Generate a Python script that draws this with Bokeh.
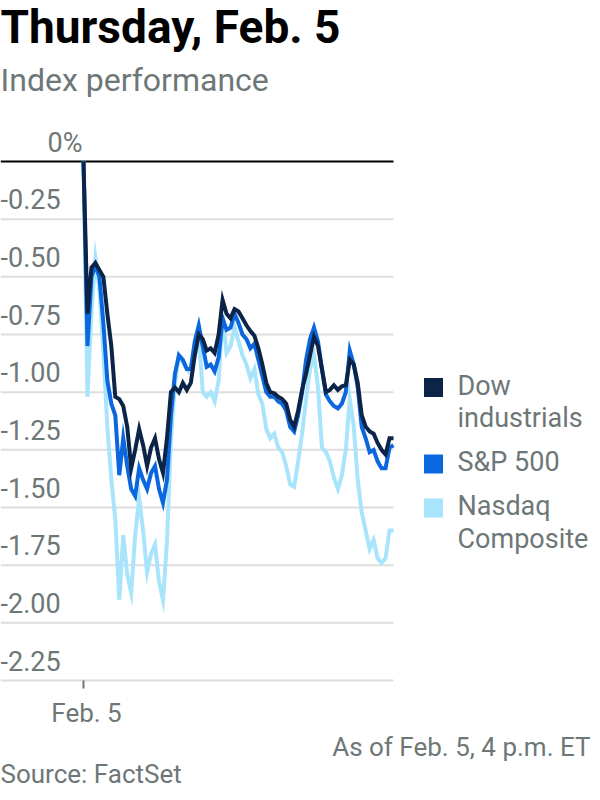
from bokeh.plotting import figure
from bokeh.models import Range1d
from bokeh.core.properties import value
from bokeh.embed import file_html
from bokeh.resources import INLINE

# ---------------- data ----------------
minutes = list(range(0, 395, 5))  # minutes after 9:30 a.m. ET, 5-minute steps

dow = [0, -0.66, -0.46, -0.44, -0.47, -0.50, -0.66, -0.80, -1.02, -1.03,
       -1.06, -1.15, -1.33, -1.25, -1.16, -1.23, -1.32, -1.24, -1.20, -1.29,
       -1.35, -1.20, -1.00, -0.98, -1.00, -0.96, -0.99, -0.96, -0.84, -0.75,
       -0.77, -0.82, -0.81, -0.83, -0.75, -0.60, -0.66, -0.68, -0.64, -0.65,
       -0.68, -0.71, -0.735, -0.755, -0.81, -0.88, -0.96, -1.00, -1.005, -1.02,
       -1.03, -1.05, -1.12, -1.15, -1.08, -0.99, -0.92, -0.84, -0.76, -0.80,
       -0.90, -1.00, -0.99, -0.97, -0.99, -0.975, -0.97, -0.86, -0.88, -0.96,
       -1.10, -1.15, -1.17, -1.18, -1.22, -1.25, -1.27, -1.20, -1.20]

sp500 = [0, -0.80, -0.50, -0.45, -0.50, -0.70, -0.95, -1.05, -1.10, -1.36,
         -1.20, -1.32, -1.42, -1.45, -1.33, -1.38, -1.42, -1.35, -1.32, -1.42,
         -1.48, -1.38, -1.10, -0.92, -0.84, -0.86, -0.90, -0.90, -0.78, -0.71,
         -0.80, -0.89, -0.88, -0.91, -0.85, -0.68, -0.73, -0.72, -0.66, -0.70,
         -0.75, -0.77, -0.81, -0.79, -0.86, -0.93, -1.00, -1.02, -1.02, -1.04,
         -1.05, -1.08, -1.15, -1.17, -1.10, -1.00, -0.86, -0.77, -0.72, -0.78,
         -0.90, -1.01, -1.04, -1.06, -1.07, -1.05, -1.00, -0.82, -0.88, -0.98,
         -1.15, -1.20, -1.26, -1.25, -1.30, -1.33, -1.33, -1.24, -1.23]

nasdaq = [0, -1.02, -0.65, -0.42, -0.55, -0.83, -1.15, -1.38, -1.55, -1.90,
          -1.62, -1.79, -1.87, -1.62, -1.46, -1.60, -1.78, -1.70, -1.66, -1.82,
          -1.90, -1.65, -1.20, -0.97, -0.84, -0.87, -0.90, -0.92, -0.80, -0.75,
          -1.00, -1.02, -1.00, -1.04, -0.95, -0.67, -0.83, -0.80, -0.72, -0.78,
          -0.84, -0.88, -0.94, -0.90, -1.01, -1.05, -1.16, -1.20, -1.18, -1.24,
          -1.26, -1.32, -1.40, -1.41, -1.30, -1.18, -1.03, -0.90, -0.84, -0.98,
          -1.24, -1.26, -1.30, -1.37, -1.42, -1.36, -1.25, -1.03, -1.15, -1.38,
          -1.52, -1.60, -1.68, -1.64, -1.72, -1.74, -1.72, -1.60, -1.60]

series_names = ["Dow\nindustrials", "S&P 500", "Nasdaq\nComposite"]
series_colors = ["#0b2447", "#0a67de", "#a8e4fc"]

y_ticks = [0, -0.25, -0.5, -0.75, -1.0, -1.25, -1.5, -1.75, -2.0, -2.25]
y_tick_labels = ["0%", "-0.25", "-0.50", "-0.75", "-1.00", "-1.25",
                 "-1.50", "-1.75", "-2.00", "-2.25"]
x_ticks = [0]
x_tick_labels = ["Feb. 5"]

title_text = "Thursday, Feb. 5"
subtitle_text = "Index performance"
note_text = "As of Feb. 5, 4 p.m. ET"
source_text = "Source: FactSet"

# ---------------- layout ----------------
FONT = value("Roboto")
GREY = "#6e7778"
W, H = 592, 792
PX_PER_MIN = 310 / 390
PX_PER_PCT = 230.67
ORIGIN_X, ZERO_Y = 83, 161           # canvas px of minute 0 / 0 %
BASE_FIX = 0.36                      # baseline correction, in em


def X(px):
    return (px - ORIGIN_X) / PX_PER_MIN


def Y(py):
    return -(py - ZERO_Y) / PX_PER_PCT


def off(fs, extra=0):
    return extra - BASE_FIX * fs


p = figure(width=W, height=H,
           x_range=Range1d(X(0), X(W)),
           y_range=Range1d(Y(H), Y(0)),
           x_axis_location=None, y_axis_location=None,
           toolbar_location=None, output_backend="svg",
           min_border_left=0, min_border_right=0,
           min_border_top=0, min_border_bottom=0)
p.outline_line_color = None
p.grid.visible = False
p.background_fill_color = "white"
p.border_fill_color = "white"

# gridlines
grid_start, grid_end = X(0), minutes[-1]
n = len(y_ticks) - 1
p.segment(x0=[grid_start] * n, y0=y_ticks[1:], x1=[grid_end] * n, y1=y_ticks[1:],
          line_color="#dedede", line_width=2)
p.segment(x0=[grid_start], y0=[y_ticks[0]], x1=[grid_end], y1=[y_ticks[0]],
          line_color="black", line_width=2)

# y labels
TFS = 27
p.text(x=[grid_start] * n, y=y_ticks[1:], text=y_tick_labels[1:],
       text_font=FONT, text_font_size=f"{TFS}px", text_color=GREY,
       text_baseline="alphabetic", text_align="left", y_offset=off(TFS, -10))
p.text(x=[minutes[0]], y=[y_ticks[0]], text=[y_tick_labels[0]],
       text_font=FONT, text_font_size=f"{TFS}px", text_color=GREY,
       text_baseline="alphabetic", text_align="right", x_offset=-1,
       y_offset=off(TFS, -9))

# lines
for vals, col in reversed(list(zip([dow, sp500, nasdaq], series_colors))):
    p.line(minutes, vals, line_color=col, line_width=4, line_join="miter")

# x axis tick + label (bottom of the value range)
axis_y = y_ticks[-1]
p.segment(x0=x_ticks, y0=[axis_y] * len(x_ticks), x1=x_ticks,
          y1=[axis_y - 8 / PX_PER_PCT] * len(x_ticks),
          line_color=GREY, line_width=2)
p.text(x=x_ticks, y=[axis_y] * len(x_ticks), text=x_tick_labels,
       text_font=FONT, text_font_size="26px", text_color=GREY,
       text_baseline="alphabetic", text_align="center", x_offset=3,
       y_offset=off(26, 42))

# title / subtitle
p.text(x=[X(0)], y=[Y(43)], text=[title_text], text_font=FONT,
       text_font_size="46px", text_font_style="bold", text_color="black",
       text_baseline="alphabetic", y_offset=off(46))
p.text(x=[X(0)], y=[Y(91)], text=[subtitle_text], text_font=FONT,
       text_font_size="32px", text_color=GREY, text_baseline="alphabetic",
       y_offset=off(32))

# legend
LFS = 27
LEG_SQ_X, LEG_TXT_X = 433, 457
baseline = 395
LINE_H, ITEM_GAP = 32.5, 44
for name, col in zip(series_names, series_colors):
    lines = name.split("\n")
    p.scatter(x=[X(LEG_SQ_X)], y=[Y(baseline - 8)], marker="square", size=19,
              fill_color=col, line_color=None)
    for i, ln in enumerate(lines):
        p.text(x=[X(LEG_TXT_X)], y=[Y(baseline + i * LINE_H)], text=[ln],
               text_font=FONT, text_font_size=f"{LFS}px", text_color=GREY,
               text_baseline="alphabetic", y_offset=off(LFS))
    baseline += (len(lines) - 1) * LINE_H + ITEM_GAP

# footer
p.text(x=[X(590)], y=[Y(756)], text=[note_text], text_font=FONT,
       text_font_size="26px", text_color=GREY, text_align="right",
       text_baseline="alphabetic", y_offset=off(26))
p.text(x=[X(0)], y=[Y(783)], text=[source_text], text_font=FONT,
       text_font_size="26px", text_color=GREY, text_align="left",
       text_baseline="alphabetic", y_offset=off(26))

open("out.html", "w").write(file_html(p, INLINE))
